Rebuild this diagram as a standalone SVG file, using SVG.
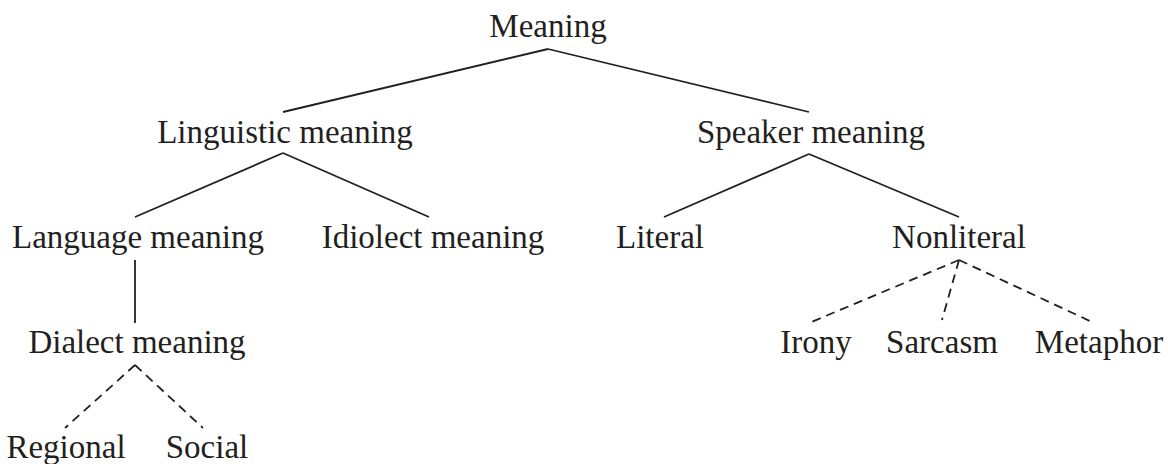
<svg xmlns="http://www.w3.org/2000/svg" width="1168" height="464" viewBox="0 0 1168 464">
<style>
text{font-family:"Liberation Serif","Times New Roman",serif;font-size:33px;fill:#231f20;text-anchor:middle}
.s{stroke:#231f20;stroke-width:1.8;fill:none}
.d{stroke:#231f20;stroke-width:1.8;fill:none;stroke-dasharray:9 6}
</style>
<rect width="1168" height="464" fill="#fff"/>
<g id="connectors">
<line class="s" x1="548" y1="49" x2="283" y2="112"/>
<line class="s" x1="548" y1="49" x2="809" y2="112"/>
<line class="s" x1="283" y1="153" x2="135" y2="217"/>
<line class="s" x1="283" y1="153" x2="429" y2="217"/>
<line class="s" x1="809" y1="154" x2="664" y2="217"/>
<line class="s" x1="809" y1="154" x2="959" y2="217"/>
<line class="s" x1="135" y1="260" x2="135" y2="323"/>
<line class="d" x1="135" y1="365" x2="65" y2="428"/>
<line class="d" x1="135" y1="365" x2="203" y2="428"/>
<line class="d" x1="959" y1="260" x2="809" y2="323"/>
<line class="d" x1="959" y1="260" x2="942" y2="320"/>
<line class="d" x1="959" y1="260" x2="1092" y2="322"/>
</g>
<g id="n-meaning"><text x="548" y="37">Meaning</text></g>
<g id="n-linguistic"><text x="285" y="143">Linguistic meaning</text></g>
<g id="n-speaker"><text x="811" y="143">Speaker meaning</text></g>
<g id="n-language"><text x="138" y="248">Language meaning</text></g>
<g id="n-idiolect"><text x="433" y="248">Idiolect meaning</text></g>
<g id="n-literal"><text x="660" y="248">Literal</text></g>
<g id="n-nonliteral"><text x="959" y="248">Nonliteral</text></g>
<g id="n-dialect"><text x="137" y="353">Dialect meaning</text></g>
<g id="n-regional"><text x="66" y="458">Regional</text></g>
<g id="n-social"><text x="207" y="458">Social</text></g>
<g id="n-irony"><text x="816" y="353">Irony</text></g>
<g id="n-sarcasm"><text x="942" y="353">Sarcasm</text></g>
<g id="n-metaphor"><text x="1099" y="353">Metaphor</text></g>
</svg>
